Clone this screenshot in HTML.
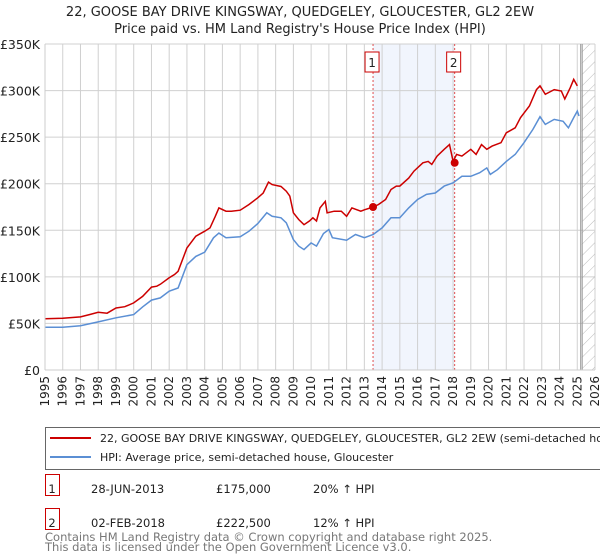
<!DOCTYPE html>
<html><head><meta charset="utf-8"><style>
body{margin:0;background:#fff;font-family:"DejaVu Sans","Liberation Sans",sans-serif;}
#wrap{position:relative;width:600px;height:560px;overflow:hidden;}
svg text{font-family:"DejaVu Sans","Liberation Sans",sans-serif;}
</style></head><body>
<div id="wrap">
<svg id="chart" width="600" height="560"></svg>
</div>
<script>
const yearTicks=[1995,1996,1997,1998,1999,2000,2001,2002,2003,2004,2005,2006,2007,2008,2009,2010,2011,2012,2013,2014,2015,2016,2017,2018,2019,2020,2021,2022,2023,2024,2025,2026];
const valueTicks=[0,50,100,150,200,250,300,350];
const valueTickLabels=["£0","£50K","£100K","£150K","£200K","£250K","£300K","£350K"];
const redYears=[1995,1996,1997,1997.5,1998,1998.5,1999,1999.5,2000,2000.5,2001,2001.3,2001.5,2002,2002.3,2002.5,2003,2003.5,2004,2004.3,2004.6,2004.8,2005.2,2005.5,2006,2006.5,2007,2007.3,2007.6,2007.8,2008.3,2008.6,2008.8,2009,2009.3,2009.6,2009.9,2010.1,2010.3,2010.5,2010.8,2010.9,2011.3,2011.7,2012,2012.3,2012.8,2013,2013.5,2013.8,2014.2,2014.5,2014.8,2015,2015.5,2015.8,2016.3,2016.6,2016.8,2017.1,2017.5,2017.8,2018,2018.2,2018.5,2019,2019.3,2019.6,2019.9,2020.2,2020.7,2021,2021.5,2021.8,2022.3,2022.7,2022.9,2023.2,2023.7,2024.1,2024.3,2024.6,2024.8,2025];
const redValues=[55,55.5,57,59.5,62,61,66.6,68,72,79,89,90,92,99,102.5,106,131,143.7,149,152.6,165,174,170.5,170.5,171.6,177.7,185,190,201.7,199,197,192,186.7,168.8,161.6,156,160,163.4,160,174,181,168.8,170.5,170.5,165,174,170.5,172,175,177.7,183,193.8,197.4,197.4,206,213.5,222.5,224,220.7,229.7,237,242,224,231.5,229.7,237,231.5,242,237,240.4,244,254.7,260,270.9,283.4,301,305,296,301,299.5,291,303,312,305];
const hpiYears=[1995,1996,1997,1998,1999,2000,2000.5,2001,2001.5,2002,2002.5,2003,2003.5,2004,2004.5,2004.8,2005.2,2006,2006.5,2007,2007.5,2007.8,2008.3,2008.6,2009,2009.3,2009.6,2010,2010.3,2010.7,2011,2011.2,2012,2012.5,2013,2013.5,2014,2014.5,2015,2015.5,2016,2016.5,2017,2017.5,2018,2018.5,2019,2019.5,2019.9,2020.1,2020.5,2021,2021.5,2022,2022.5,2022.9,2023.2,2023.7,2024.2,2024.5,2024.8,2025,2025.1];
const hpiValues=[45.9,45.9,47.6,51.6,56,59.5,67.7,75,77.4,84.6,88,113,122,126.5,141.9,147,142,143,149,157.3,168.8,165,163.4,158,140,133,129.3,136.5,133,146.5,150.8,142,139.4,145.5,142,145.5,152.6,163.4,163.4,174,183,188.5,190,197.4,201,208,208,211.8,217,210,215,224,231.5,244,258.3,272,263.7,269,267,260,271,278,272.7];
const saleYears=[2013.49,2018.09];
const saleValues=[175,222.5];
const saleLabels=["1","2"];

const NS="http://www.w3.org/2000/svg";
const svg=document.getElementById('chart');
const L=45,R=595,T=44,B=370;
const x=y=>L+(y-1995)*(R-L)/31;
const yv=v=>B-v*(B-T)/350;
function mk(tag,attrs,parent){const e=document.createElementNS(NS,tag);for(const k in attrs)e.setAttribute(k,attrs[k]);(parent||svg).appendChild(e);return e;}

let t=mk('text',{x:300,y:16,'text-anchor':'middle','font-size':'13',fill:'#222'});


t.textContent="22, GOOSE BAY DRIVE KINGSWAY, QUEDGELEY, GLOUCESTER, GL2 2EW";
t=mk('text',{x:300,y:33,'text-anchor':'middle','font-size':'13',fill:'#222'});


t.textContent="Price paid vs. HM Land Registry's House Price Index (HPI)";

let band=mk('rect',{x:x(saleYears[0]),y:T,width:x(saleYears[1])-x(saleYears[0]),height:B-T,fill:'#eef3fc',opacity:0.8});



yearTicks.forEach(yr=>{
 const g=mk('line',{x1:x(yr),x2:x(yr),y1:T,y2:B,stroke:'#d0d0d0','stroke-width':1});
 
 
 const lab=mk('text',{transform:`translate(${x(yr)+4},${B+6}) rotate(-90)`,'text-anchor':'end','font-size':'12',fill:'#222'});
 
 
 lab.textContent=yr;
});
valueTicks.forEach((v,i)=>{
 const g=mk('line',{x1:L,x2:R,y1:yv(v),y2:yv(v),stroke:'#d0d0d0','stroke-width':1});
 
 
 const lab=mk('text',{x:L-5,y:yv(v)+5,'text-anchor':'end','font-size':'12.5',fill:'#222'});
 
 
 lab.textContent=valueTickLabels[i];
});

const defs=mk('defs',{});
const pat=mk('pattern',{id:'hatch',width:8,height:8,patternUnits:'userSpaceOnUse',patternTransform:'rotate(45)'},defs);
mk('line',{x1:0,y1:0,x2:0,y2:8,stroke:'#bbb','stroke-width':1},pat);
const hx=x(2025.25);
let hatch=mk('rect',{x:hx,y:T,width:R-hx,height:B-T,fill:'url(#hatch)'});


mk('line',{x1:hx-1,x2:hx-1,y1:T,y2:B,stroke:'#999','stroke-width':1});
mk('line',{x1:hx+0.5,x2:hx+0.5,y1:T,y2:B,stroke:'#999','stroke-width':1});

saleYears.forEach((s,i)=>{
 const l=mk('line',{x1:x(s),x2:x(s),y1:T,y2:B,stroke:'#e05050','stroke-width':1,'stroke-dasharray':'2,2'});
 
 
});

function path(xs,vs){return xs.map((a,i)=>(i?'L':'M')+x(a).toFixed(1)+','+yv(vs[i]).toFixed(1)).join('');}
let hp=mk('path',{d:path(hpiYears,hpiValues),fill:'none',stroke:'#5b8fd4','stroke-width':1.5});


let rp=mk('path',{d:path(redYears,redValues),fill:'none',stroke:'#cc0000','stroke-width':1.5});



mk('line',{x1:L,x2:L,y1:T,y2:B,stroke:'#ccc'});
mk('line',{x1:L,x2:R,y1:B,y2:B,stroke:'#ccc'});

saleYears.forEach((s,i)=>{
 const c=mk('circle',{cx:x(s),cy:yv(saleValues[i]),r:4,fill:'#cc0000'});
 
 
 const b=mk('rect',{x:x(s)-8,y:52,width:14,height:20,fill:'#fff',stroke:'#cc0000','stroke-width':1});
 
 
 const tx=mk('text',{x:x(s)-1,y:67,'text-anchor':'middle','font-size':'12',fill:'#222'});
 
 
 tx.textContent=saleLabels[i];
});

let lg=mk('rect',{x:45.5,y:427.5,width:570,height:42,fill:'#fff',stroke:'#666'});


mk('line',{x1:50,x2:91,y1:438,y2:438,stroke:'#cc0000','stroke-width':2});
mk('line',{x1:50,x2:91,y1:457,y2:457,stroke:'#5b8fd4','stroke-width':2});
t=mk('text',{x:100,y:442,'font-size':'11',fill:'#222'});


t.textContent="22, GOOSE BAY DRIVE KINGSWAY, QUEDGELEY, GLOUCESTER, GL2 2EW (semi-detached house)";
t=mk('text',{x:100,y:461,'font-size':'11',fill:'#222'});


t.textContent="HPI: Average price, semi-detached house, Gloucester";

const rows=[["1","28-JUN-2013","£175,000","20% \u2191 HPI",493],["2","02-FEB-2018","£222,500","12% \u2191 HPI",527]];
rows.forEach(r=>{
 const b=mk('rect',{x:45.5,y:r[4]-18.5,width:14,height:21,fill:'#fff',stroke:'#cc0000'});
 
 
 const cells=[[52,r[0],'middle'],[91,r[1],'start'],[216,r[2],'start'],[313,r[3],'start']];
 cells.forEach(c=>{
  const e=mk('text',{x:c[0],y:r[4],'font-size':'11.5',fill:'#222','text-anchor':c[2]});
  
  
  e.textContent=c[1];
 });
});
t=mk('text',{x:45,y:541,'font-size':'11.5',fill:'#777'});


t.textContent="Contains HM Land Registry data © Crown copyright and database right 2025.";
t=mk('text',{x:45,y:551,'font-size':'11.5',fill:'#777'});


t.textContent="This data is licensed under the Open Government Licence v3.0.";
</script>
</body></html>
